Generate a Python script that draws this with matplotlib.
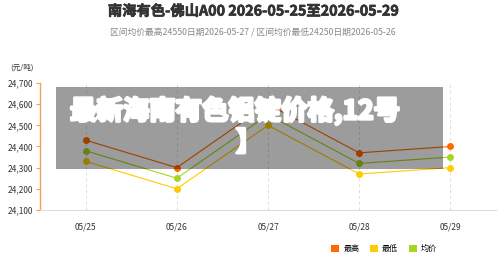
import matplotlib
matplotlib.use("Agg")
import matplotlib.pyplot as plt
import matplotlib.patheffects as pe
from matplotlib.patches import Rectangle, Patch
from matplotlib.ticker import FuncFormatter

plt.rcParams['font.family'] = ['Noto Sans CJK SC', 'DejaVu Sans']

# data
dates = ["05/25", "05/26", "05/27", "05/28", "05/29"]
high = [24430, 24300, 24600, 24370, 24400]
low = [24330, 24200, 24500, 24270, 24300]
avg = [24380, 24250, 24550, 24320, 24350]
series_names = ["最高", "最低", "均价"]
title = "南海有色-佛山A00 2026-05-25至2026-05-29"
subtitle = "区间均价最高24550日期2026-05-27 / 区间均价最低24250日期2026-05-26"
overlay_text = "最新海南有色铝锭价格,12号"

c_high = "#ff6a00"
c_low = "#ffcc00"
c_avg = "#a8d424"

fig = plt.figure(figsize=(5, 2.57), dpi=100)
ax = fig.add_axes([0.08, 0.183, 0.912, 0.494])

x = list(range(len(dates)))
ax.plot(x, high, color=c_high, lw=0.8, marker="o", ms=4, zorder=3)
ax.plot(x, avg, color=c_avg, lw=0.8, marker="o", ms=4, zorder=3)
ax.plot(x, low, color=c_low, lw=0.8, marker="o", ms=4, zorder=3)

ax.set_xlim(-0.5, 4.5)
ax.set_ylim(24100, 24700)
ax.set_yticks(range(24100, 24701, 100))
ax.yaxis.set_major_formatter(FuncFormatter(lambda v, p: f"{int(v):,}"))
ax.set_xticks(x)
ax.set_xticklabels(dates)

ax.grid(axis="x", color="#dddddd", lw=0.7, linestyle=(0, (3, 3)))
ax.set_axisbelow(True)
for s in ["top", "right"]:
    ax.spines[s].set_visible(False)
ax.spines["left"].set_color("#f5a05a")
ax.spines["left"].set_linewidth(1.0)
ax.spines["bottom"].set_color("#dddddd")
ax.spines["bottom"].set_linewidth(0.8)
ax.tick_params(axis="y", colors="#f5a05a", labelcolor="#333333", labelsize=6, length=3, width=0.8, pad=2)
ax.tick_params(axis="x", length=0, labelcolor="#333333", labelsize=6, pad=9)

fig.text(0.044, 0.738, "(元/吨)", fontsize=5.5, color="#333333", ha="center", va="center")

fig.text(0.506, 0.955, title, fontsize=10.3, fontweight="bold", color="#333333", ha="center", va="center",
         path_effects=[pe.withStroke(linewidth=0.5, foreground="#333333")])
fig.text(0.506, 0.872, subtitle, fontsize=6.3, color="#888888", ha="center", va="center")

# legend
handles = [Patch(facecolor=c, edgecolor="none") for c in (c_high, c_low, c_avg)]
fig.legend(handles, series_names, loc="center", bbox_to_anchor=(0.768, 0.032), ncol=3,
           frameon=False, fontsize=5.8, handlelength=1.0, handleheight=1.0,
           handletextpad=0.5, columnspacing=1.3)

# semi-transparent overlay with watermark text
fig.patches.append(Rectangle((0.112, 0.342), 0.774, 0.319, transform=fig.transFigure,
                             facecolor="black", alpha=0.39, edgecolor="none", zorder=5))
heavy = [pe.withStroke(linewidth=2.0, foreground="white")]
fig.text(0.47, 0.568, overlay_text, fontsize=19, fontweight="bold",
         color="white", ha="center", va="center", zorder=6, path_effects=heavy)
fig.text(0.498, 0.443, "】", fontsize=19, fontweight="bold",
         color="white", ha="center", va="center", zorder=6, path_effects=heavy)

fig.savefig("out.png", dpi=100)
